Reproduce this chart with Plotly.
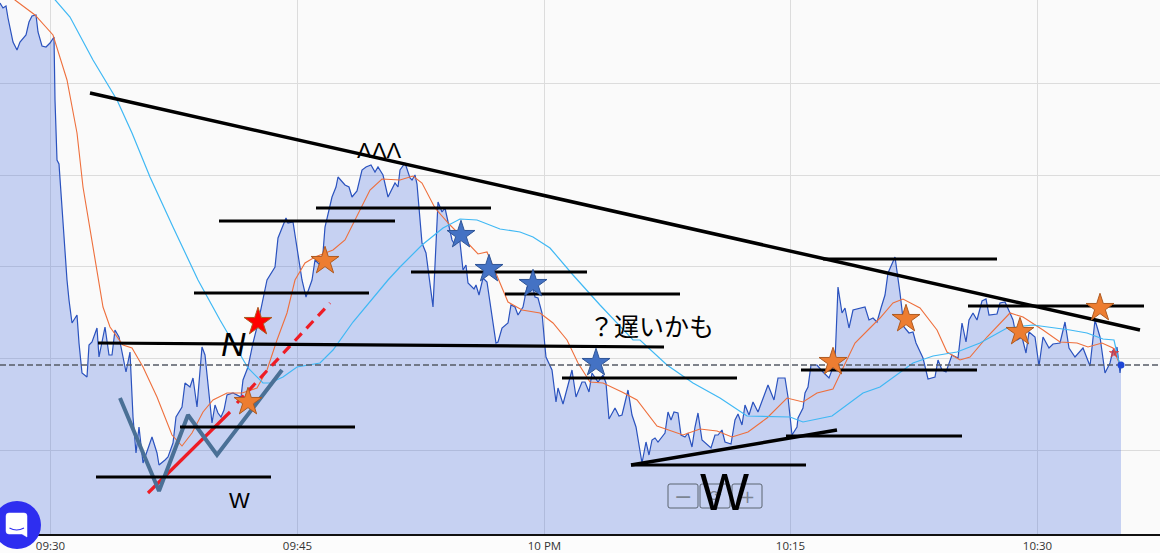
import plotly.graph_objects as go

# x = time index along the session, y = price level (no price labels are shown in the picture)
tick_pos = [50.5, 297.5, 544.5, 790.5, 1037.5]
tick_text = ["09:30", "09:45", "10 PM", "10:15", "10:30"]
grid_levels = [84, 175.5, 267.5, 359, 451]

price_x = [0,3,6,8,13,17,20,26,29,32,36,38,42,46,50,54,55,57,59,63,67,69,72,77,79,82,87,89,92,97,99,105,109,112,115,119,126,130,133,136,139,143,152,157,159,165,168,173,176,182,185,190,193,197,202,205,212,215,218,221,224,227,233,241,243,248,253,258,263,267,275,278,286,288,293,302,306,312,315,320,323,325,332,336,338,345,349,352,357,362,366,371,375,378,383,388,395,398,400,405,410,412,415,417,422,426,433,438,442,445,452,455,459,462,463,466,468,474,476,479,483,487,490,496,498,502,508,511,515,518,523,527,532,535,538,542,545,546,552,556,558,563,572,576,582,585,589,592,598,603,606,609,615,619,622,628,632,636,642,646,649,652,655,658,665,668,671,674,678,681,685,688,692,695,698,702,711,715,718,722,725,731,735,738,742,745,749,753,758,768,774,778,785,788,792,797,798,803,805,808,811,817,823,829,835,838,842,845,849,853,865,869,873,877,881,885,888,895,900,904,909,913,916,923,928,935,938,942,946,952,958,962,966,969,973,977,982,986,989,997,1000,1005,1010,1013,1017,1022,1026,1029,1035,1039,1043,1049,1053,1060,1065,1069,1075,1083,1090,1095,1100,1105,1110,1113,1115,1117,1120,1121]
price_y = [531,526,528,516,492,484,492,499,512,518,519,502,488,487,491,497,434,374,370,307,254,234,211,219,191,161,157,189,192,206,177,207,179,179,204,197,162,182,117,81,107,71,97,81,69,74,77,91,117,127,151,147,156,127,187,179,111,129,121,117,124,139,141,137,154,167,191,211,234,254,267,296,316,311,312,254,237,254,274,269,281,307,337,347,357,349,347,337,343,364,367,369,362,367,359,337,351,347,364,371,356,354,359,350,291,281,227,332,322,326,294,289,301,271,264,269,251,245,249,239,256,252,231,191,192,206,211,229,227,219,227,247,251,237,236,221,187,177,164,132,146,130,164,137,152,152,142,161,152,159,151,115,126,118,119,144,119,107,71,92,79,94,96,92,101,122,114,122,121,99,97,101,87,107,121,94,86,99,99,104,92,90,114,120,109,129,119,132,122,149,134,156,156,137,99,107,116,126,141,147,169,169,162,156,172,247,221,226,206,224,227,214,216,212,226,239,261,277,241,207,201,202,191,176,155,157,174,164,162,179,176,211,192,214,221,214,233,235,219,220,231,232,221,214,194,197,181,202,197,168,197,186,190,191,212,186,177,186,168,214,197,161,171,184,179,187,161,169]

fast_x = [10,15,35,50,53,67,77,83,93,99,103,110,123,132,143,157,172,182,192,203,213,227,242,257,267,277,287,295,305,315,333,345,360,370,382,400,413,422,435,450,462,478,487,500,508,522,540,553,567,578,590,603,622,637,657,683,700,717,732,748,767,787,803,817,833,842,855,870,880,893,903,920,937,947,960,970,987,1010,1023,1043,1060,1077,1088,1102,1113,1120]
fast_y = [540,534,519,502,499,454,401,347,287,254,227,207,189,186,167,137,99,88,101,122,134,141,141,146,164,194,221,254,271,277,284,294,324,344,355,354,358,351,326,309,297,280,282,251,232,224,221,211,194,171,152,151,142,134,108,99,105,103,97,102,116,136,132,141,145,164,191,206,216,231,235,226,204,182,174,177,197,221,217,204,192,191,187,191,186,169]

slow_x = [50,55,70,93,117,132,150,173,198,220,248,263,270,283,297,320,333,353,388,400,422,443,460,477,500,520,533,550,573,600,633,640,667,693,720,747,790,803,832,863,880,913,933,957,980,1007,1033,1070,1087,1103,1114,1118,1120]
slow_y = [540,534,517,474,434,401,357,307,254,214,166,151,151,157,167,171,184,212,254,267,289,306,315,314,305,302,297,286,259,229,194,194,169,151,136,118,117,112,118,141,147,171,178,182,191,206,209,204,201,195,194,176,169]

last_x = [1121]
last_y = [169]

# hand-drawn levels: start, end, level at start, level at end
level_x0 = [219,316,194,411,505,98,562,180,96,631,786,801,823,968]
level_x1 = [395,491,369,587,680,664,737,355,271,806,962,977,997,1144]
level_y0 = [313,326,241,262,240,191,156,107,57,69,98,164,275,228]
level_y1 = [313,326,241,262,240,187,156,107,57,69,98,164,275,228]

trend_x = [90,1140]
trend_y = [441,204]
support_x = [631,837]
support_y = [69,104]

red_solid_x = [148,230]
red_solid_y = [41,122]
red_dash_x = [237,330]
red_dash_y = [131,231]

w_x = [120,159,188,217,282]
w_y = [136,43,119,79,164]

orange_star_x = [248,325,833,906,1020,1100]
orange_star_y = [132,273,172,215,202,226]
blue_star_x = [461,489,533,596]
blue_star_y = [299,265,250,171]
red_star_x = [258]
red_star_y = [212]
tiny_star_x = [1114]
tiny_star_y = [181]

label_text = ["ΛΛΛ", "<i>N</i>", "W", "？遅いかも", "W"]
label_x = [379, 233, 239, 651, 724]
label_y = [384, 190, 34, 209, 42]
label_size = [22, 34, 22, 25, 52]

LATIN = "Liberation Sans, Arial, sans-serif"
CJK = "Noto Sans CJK JP, sans-serif"
W, H = 1160, 553
AXIS_BOTTOM = 534

fig = go.Figure()
fig.add_trace(go.Scatter(x=price_x, y=price_y, mode="lines", fill="tozeroy",
                         fillcolor="rgba(60,100,220,0.27)",
                         line=dict(color="#2a52be", width=1.2), hoverinfo="skip"))
fig.add_trace(go.Scatter(x=fast_x, y=fast_y, mode="lines", line=dict(color="#ee6f3c", width=1.1), hoverinfo="skip"))
fig.add_trace(go.Scatter(x=slow_x, y=slow_y, mode="lines", line=dict(color="#3fb8f4", width=1.2), hoverinfo="skip"))
fig.add_trace(go.Scatter(x=[0, W], y=last_y * 2, mode="lines",
                         line=dict(color="#555b66", width=1.4, dash="6px,3px"), hoverinfo="skip"))

for x, y, c, wd, d in [
    (red_solid_x, red_solid_y, "#ee1c25", 3.2, None),
    (red_dash_x, red_dash_y, "#ee1c25", 3.2, "10px,7px"),
    (w_x, w_y, "#4a7096", 4, None),
]:
    fig.add_trace(go.Scatter(x=x, y=y, mode="lines", line=dict(color=c, width=wd, dash=d), hoverinfo="skip"))

for x0, x1, y0, y1 in zip(level_x0, level_x1, level_y0, level_y1):
    fig.add_trace(go.Scatter(x=[x0, x1], y=[y0, y1], mode="lines", line=dict(color="black", width=3.2), hoverinfo="skip"))
fig.add_trace(go.Scatter(x=trend_x, y=trend_y, mode="lines", line=dict(color="black", width=3.5), hoverinfo="skip"))
fig.add_trace(go.Scatter(x=support_x, y=support_y, mode="lines", line=dict(color="black", width=3.5), hoverinfo="skip"))

for x, y, c, lc, s in [
    (orange_star_x, orange_star_y, "#ed7d31", "#ae5a21", 21),
    (blue_star_x, blue_star_y, "#4472c4", "#2f5597", 21),
    (red_star_x, red_star_y, "#ff0000", "#ae5a21", 21),
    (tiny_star_x, tiny_star_y, "rgba(220,60,60,0.7)", "rgba(220,60,60,0.7)", 7),
]:
    fig.add_trace(go.Scatter(x=x, y=y, mode="markers", hoverinfo="skip",
                             marker=dict(symbol="star", size=s, color=c, line=dict(color=lc, width=1))))
fig.add_trace(go.Scatter(x=last_x, y=last_y, mode="markers", hoverinfo="skip",
                         marker=dict(symbol="circle", size=7, color="#1f47d6")))

def px(x): return x / W
def py(y): return (AXIS_BOTTOM - y) / AXIS_BOTTOM

# zoom-control glyphs come first so that the big W lies over them
for t, x, s in [("−", 683, 22), ("⟳", 715, 15), ("+", 747, 18)]:
    fig.add_annotation(xref="paper", yref="paper", x=px(x), y=py(496), text=t, showarrow=False,
                       xanchor="center", yanchor="middle",
                       font=dict(size=s, color="#7c8592", family="DejaVu Sans"))

for t, x, y, s in zip(label_text, label_x, label_y, label_size):
    fig.add_annotation(x=x, y=y, text=t, showarrow=False, xanchor="center", yanchor="middle",
                       font=dict(size=s, color="black", family=CJK if "遅" in t else LATIN))

def rounded(x0, y0, x1, y1, r=2):
    return (f"M{px(x0+r)},{py(y0)} L{px(x1-r)},{py(y0)} Q{px(x1)},{py(y0)} {px(x1)},{py(y0+r)} "
            f"L{px(x1)},{py(y1-r)} Q{px(x1)},{py(y1)} {px(x1-r)},{py(y1)} L{px(x0+r)},{py(y1)} "
            f"Q{px(x0)},{py(y1)} {px(x0)},{py(y1-r)} L{px(x0)},{py(y0+r)} Q{px(x0)},{py(y0)} {px(x0+r)},{py(y0)} Z")

shapes = []
for x0, x1 in [(668, 698), (700, 730), (732, 762)]:
    shapes.append(dict(type="path", xref="paper", yref="paper", path=rounded(x0, 484, x1, 508),
                       line=dict(color="#5b6470", width=1), fillcolor="rgba(0,0,0,0)", layer="above"))
shapes.append(dict(type="circle", xref="paper", yref="paper", x0=px(-7), x1=px(41), y0=py(549), y1=py(501),
                   fillcolor="#2e2ef0", line=dict(width=0), layer="above"))
bubble = (f"M{px(9)},{py(513)} L{px(24)},{py(513)} Q{px(27)},{py(513)} {px(27)},{py(516)} "
          f"L{px(27)},{py(537)} L{px(22)},{py(534)} L{px(9)},{py(534)} Q{px(6)},{py(534)} {px(6)},{py(531)} "
          f"L{px(6)},{py(516)} Q{px(6)},{py(513)} {px(9)},{py(513)} Z")
shapes.append(dict(type="path", xref="paper", yref="paper", path=bubble, fillcolor="white",
                   line=dict(color="white", width=0.5), layer="above"))
smile = f"M{px(9.5)},{py(528)} Q{px(16.5)},{py(532)} {px(24)},{py(528)}"
shapes.append(dict(type="path", xref="paper", yref="paper", path=smile,
                   line=dict(color="#2e2ef0", width=1.2), layer="above"))
fig.update_layout(shapes=shapes)

fig.update_layout(
    width=W, height=H, showlegend=False,
    margin=dict(l=0, r=0, t=0, b=H - AXIS_BOTTOM),
    paper_bgcolor="#fcfcfc", plot_bgcolor="#fafafa",
    font=dict(family="Open Sans, sans-serif", size=12, color="#333"),
    xaxis=dict(range=[0, W], tickmode="array", tickvals=tick_pos, ticktext=tick_text,
               showgrid=True, gridcolor="#dcdcdc", gridwidth=1, zeroline=False,
               showline=True, linecolor="#111", linewidth=1.5, ticks="",
               tickfont=dict(size=11.5, color="#333")),
    yaxis=dict(range=[0, AXIS_BOTTOM], tickmode="array", tickvals=grid_levels, showticklabels=False,
               showgrid=True, gridcolor="#dcdcdc", gridwidth=1, zeroline=False, ticks="", showline=False),
)

fig.write_html("out.html", config=dict(displayModeBar=False),
               post_script="document.body.style.margin='0';document.body.style.overflow='hidden';")
